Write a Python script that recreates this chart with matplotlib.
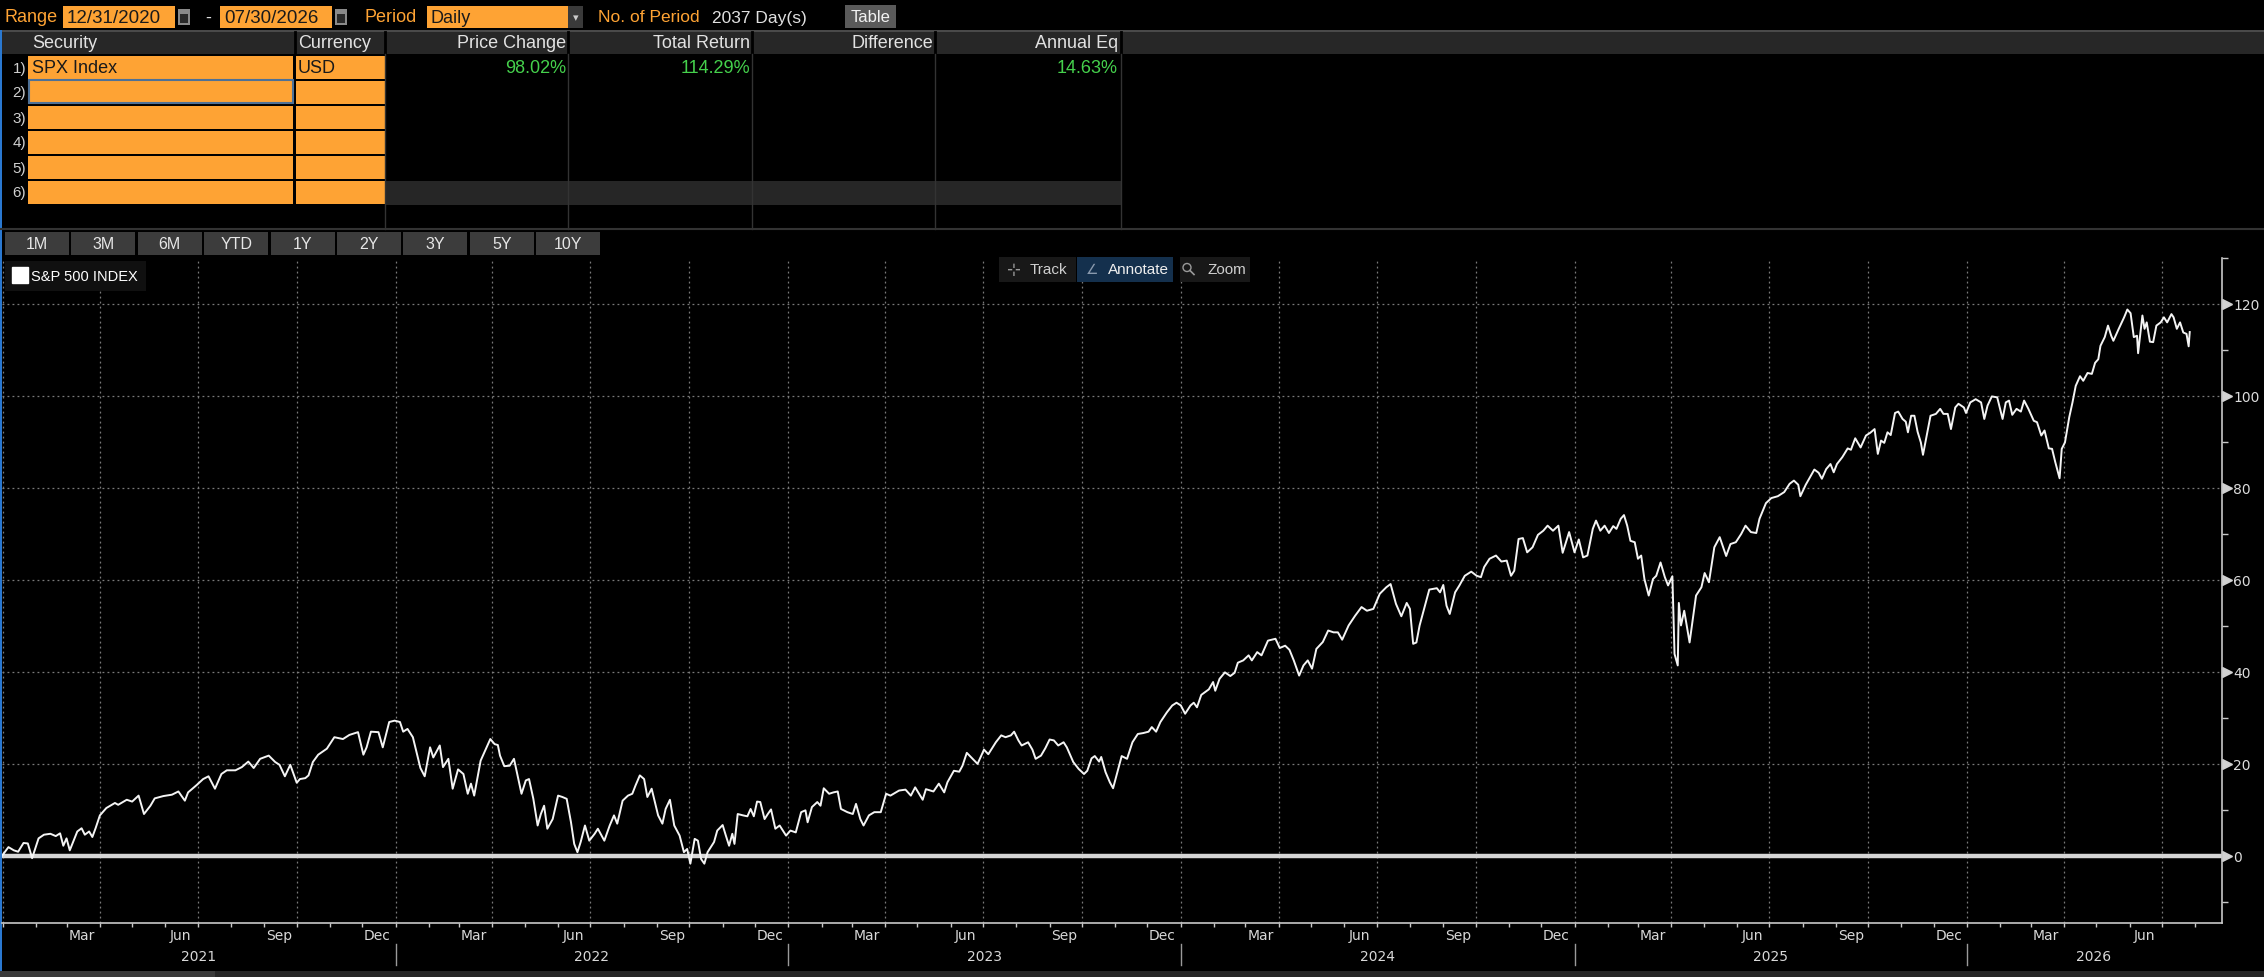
import numpy as np
import matplotlib
matplotlib.use('Agg')
import matplotlib.pyplot as plt
import matplotlib.dates as mdates
from matplotlib.patches import Rectangle, Circle
from matplotlib.lines import Line2D
from matplotlib.ticker import NullFormatter
from matplotlib import transforms

# ---- data (cumulative total return, %) ----
START = np.datetime64('2020-12-31')
AXIS_END = np.datetime64('2026-08-26')

days_2021 = [0, 6, 11, 15, 20, 24, 28, 34, 39, 45, 50, 54, 57, 60, 63, 70, 74, 77, 81, 84,
             87, 91, 97, 105, 108, 116, 121, 127, 132, 138, 142, 150, 158, 164, 170, 173, 181, 187, 192, 198,
             204, 209, 217, 223, 229, 234, 240, 248, 254, 258, 263, 268, 274, 277, 282, 285, 289, 294, 302, 309,
             317, 323, 331, 336, 339, 343, 350, 354, 360, 365]
ret_2021 = [0.0, 1.9, 1.2, 0.9, 2.8, 2.7, -0.5, 3.8, 4.6, 4.8, 4.3, 4.9, 2.2, 3.8, 1.2, 5.3, 6.0, 4.6, 5.3, 4.1,
            6.0, 8.8, 10.4, 11.5, 11.1, 12.2, 11.8, 13.1, 9.1, 10.9, 12.5, 13.0, 13.3, 14.0, 12.0, 13.8, 15.4, 16.7, 17.3, 14.6,
            17.8, 18.6, 18.6, 19.3, 20.5, 19.1, 21.1, 21.8, 20.4, 19.8, 17.3, 19.8, 15.9, 16.7, 16.9, 17.5, 20.4, 22.0, 23.3, 25.8,
            25.4, 26.3, 26.9, 22.0, 23.6, 27.0, 26.9, 23.6, 29.1, 29.4]

days_2022 = [370, 373, 377, 382, 389, 393, 398, 401, 407, 410, 415, 419, 424, 429, 433, 436, 439, 445, 454, 458,
             461, 463, 467, 472, 476, 480, 483, 487, 490, 494, 498, 501, 504, 507, 512, 517, 521, 525, 529, 532,
             535, 538, 542, 546, 551, 554, 560, 565, 569, 572, 577, 582, 586, 589, 593, 597, 600, 604, 610, 614,
             617, 621, 625, 630, 634, 637, 640, 644, 647, 650, 653, 656, 659, 662, 665, 670, 673, 676, 679, 681,
             684, 689, 693, 696, 699, 702, 705, 709, 712, 715, 719, 723, 729]
ret_2022 = [29.1, 27.0, 27.6, 25.8, 19.1, 17.3, 23.6, 21.4, 24.0, 19.3, 21.1, 14.6, 18.8, 17.8, 13.5, 15.7, 13.1, 20.7, 25.4, 24.3,
            24.1, 21.8, 19.5, 19.6, 21.1, 16.7, 13.5, 16.4, 16.7, 12.4, 6.6, 9.1, 10.9, 5.9, 8.0, 13.1, 12.8, 12.4, 7.3, 2.6,
            0.8, 3.0, 6.6, 3.3, 4.8, 5.9, 3.3, 6.6, 8.8, 7.0, 12.0, 13.1, 13.5, 15.3, 17.5, 16.7, 12.8, 14.6, 8.8, 7.0,
            10.2, 12.2, 6.6, 4.4, 0.8, 1.5, -1.7, 3.7, 3.3, -0.7, -1.7, 0.8, 1.9, 3.0, 5.5, 6.7, 4.4, 2.2, 4.8, 2.6,
            9.1, 8.8, 8.6, 10.2, 8.6, 11.8, 11.7, 8.0, 9.1, 10.1, 5.9, 6.6, 4.4]

days_2023 = [733, 738, 743, 747, 749, 753, 758, 761, 764, 769, 773, 777, 780, 786, 791, 794, 798, 801, 806, 811,
             817, 822, 826, 834, 840, 845, 849, 856, 859, 866, 871, 876, 879, 885, 890, 893, 897, 902, 907, 913,
             917, 924, 929, 933, 938, 941, 945, 948, 954, 958, 961, 966, 970, 974, 978, 982, 987, 990, 996, 1001,
             1006, 1009, 1013, 1016, 1020, 1022, 1026, 1030, 1033, 1037, 1041, 1046, 1051, 1056, 1061, 1066, 1069, 1073, 1077, 1083,
             1088, 1092]
ret_2023 = [5.5, 5.1, 9.5, 9.9, 7.3, 10.6, 11.7, 10.9, 14.7, 13.5, 13.8, 14.0, 10.2, 9.5, 9.1, 11.3, 8.0, 6.6, 8.8, 9.5,
            9.5, 13.5, 13.1, 14.2, 14.4, 13.1, 14.9, 12.2, 14.5, 14.0, 15.7, 13.8, 16.0, 18.5, 18.3, 19.6, 22.4, 21.2, 20.0, 23.1,
            22.1, 24.7, 26.2, 25.8, 26.2, 27.0, 25.1, 24.0, 24.7, 23.1, 21.1, 21.8, 23.4, 25.3, 25.1, 24.0, 24.7, 23.6, 20.4, 18.9,
            17.8, 18.5, 21.2, 21.7, 20.5, 21.5, 18.2, 16.0, 14.7, 18.2, 21.7, 21.1, 24.7, 26.5, 26.7, 27.0, 28.0, 27.0, 29.1, 31.2,
            32.7, 33.3]

days_2024 = [1096, 1100, 1105, 1108, 1111, 1115, 1122, 1126, 1128, 1132, 1137, 1142, 1146, 1149, 1154, 1159, 1162, 1167, 1171, 1177,
             1184, 1188, 1193, 1197, 1201, 1206, 1210, 1214, 1218, 1222, 1228, 1233, 1238, 1242, 1246, 1252, 1258, 1264, 1269, 1275,
             1281, 1287, 1291, 1296, 1301, 1306, 1309, 1312, 1315, 1318, 1323, 1327, 1334, 1337, 1340, 1343, 1346, 1351, 1355, 1360,
             1366, 1371, 1375, 1378, 1383, 1389, 1394, 1399, 1403, 1406, 1410, 1414, 1418, 1423, 1428, 1433, 1437, 1442, 1447, 1451,
             1457]
ret_2024 = [32.7, 30.9, 32.7, 33.3, 32.3, 35.0, 36.2, 37.8, 35.9, 38.5, 39.9, 39.1, 39.8, 42.0, 42.5, 43.6, 42.5, 44.3, 43.6, 46.8,
            47.2, 45.2, 45.7, 44.8, 42.5, 39.2, 41.4, 42.5, 40.7, 45.0, 46.5, 49.0, 48.6, 48.6, 47.0, 50.1, 52.2, 54.1, 53.3, 53.7,
            57.0, 58.4, 59.1, 54.8, 52.1, 55.0, 53.7, 46.1, 46.4, 50.1, 54.4, 57.9, 58.2, 57.3, 58.9, 54.4, 52.6, 57.3, 58.8, 60.9,
            61.8, 60.9, 60.6, 62.8, 64.6, 65.3, 64.0, 64.2, 60.9, 62.0, 68.9, 69.1, 66.0, 67.1, 69.8, 70.7, 71.8, 70.7, 71.8, 65.9,
            70.4]

days_2025 = [1462, 1466, 1470, 1474, 1479, 1482, 1486, 1490, 1494, 1498, 1501, 1505, 1508, 1511, 1514, 1518, 1521, 1524, 1527, 1531,
             1535, 1538, 1542, 1546, 1549, 1553, 1555, 1558, 1559, 1561, 1564, 1569, 1575, 1580, 1583, 1587, 1592, 1597, 1603, 1607,
             1612, 1617, 1621, 1626, 1631, 1634, 1640, 1645, 1651, 1657, 1662, 1666, 1670, 1672, 1677, 1685, 1689, 1692, 1696, 1700,
             1703, 1706, 1711, 1716, 1719, 1723, 1728, 1733, 1737, 1741, 1744, 1747, 1750, 1753, 1756, 1760, 1763, 1767, 1770, 1772,
             1775, 1778, 1781, 1784, 1786, 1790, 1793, 1798, 1802, 1805, 1809, 1812, 1816, 1819, 1824, 1826]
ret_2025 = [66.0, 68.8, 64.9, 65.3, 71.1, 72.9, 70.7, 71.8, 70.2, 71.7, 71.1, 73.3, 74.1, 71.8, 68.5, 68.2, 64.6, 65.3, 60.2, 56.6,
            60.2, 60.9, 63.8, 60.6, 58.8, 60.8, 43.9, 41.4, 55.0, 50.1, 53.3, 46.4, 56.6, 58.4, 61.5, 59.5, 67.1, 69.3, 65.2, 67.8,
            68.2, 70.0, 71.8, 70.4, 70.2, 73.3, 76.7, 77.8, 78.2, 79.1, 80.9, 81.6, 80.7, 78.2, 80.7, 84.0, 83.3, 82.0, 84.1, 85.2,
            83.4, 85.2, 86.7, 88.6, 88.3, 90.8, 88.8, 91.4, 92.0, 92.8, 87.4, 90.3, 89.8, 92.1, 91.5, 96.3, 96.6, 95.0, 94.4, 92.1,
            95.7, 95.7, 92.2, 89.9, 87.2, 92.1, 95.7, 96.1, 97.2, 96.1, 96.1, 92.8, 97.5, 98.3, 97.5, 96.3]

days_2026 = [1830, 1835, 1840, 1843, 1846, 1850, 1855, 1860, 1863, 1866, 1869, 1873, 1877, 1880, 1884, 1889, 1892, 1896, 1899, 1903,
             1906, 1909, 1913, 1915, 1918, 1922, 1925, 1928, 1932, 1935, 1939, 1943, 1946, 1949, 1951, 1955, 1958, 1961, 1963, 1968,
             1973, 1976, 1979, 1982, 1985, 1986, 1990, 1992, 1994, 1997, 2000, 2003, 2007, 2010, 2013, 2017, 2019, 2022, 2025, 2028,
             2031, 2033, 2034]
ret_2026 = [98.6, 99.3, 98.6, 95.0, 97.9, 99.9, 99.7, 95.0, 98.6, 99.0, 95.9, 97.2, 96.6, 99.0, 97.2, 94.6, 94.3, 91.4, 92.5, 88.6,
            88.5, 85.6, 82.1, 88.5, 89.9, 95.4, 98.6, 102.2, 104.3, 103.3, 105.0, 104.8, 107.2, 108.0, 110.9, 112.8, 115.3, 113.1, 112.0, 114.6,
            117.1, 118.8, 118.0, 112.8, 113.1, 109.3, 117.5, 114.6, 116.0, 111.8, 111.7, 115.3, 116.0, 117.1, 116.0, 117.8, 117.1, 114.6, 116.0, 113.8,
            113.5, 110.8, 113.9]

headers = ['Security', 'Currency', 'Price Change', 'Total Return', 'Difference', 'Annual Eq']
row_1 = ['SPX Index', 'USD', '98.02%', '114.29%', '', '14.63%']
buttons = ['1M', '3M', '6M', 'YTD', '1Y', '2Y', '3Y', '5Y', '10Y']
tools = ['Track', 'Annotate', 'Zoom']
y_major = [0, 20, 40, 60, 80, 100, 120]
month_names = {3: 'Mar', 6: 'Jun', 9: 'Sep', 12: 'Dec'}
series_name = 'S&P 500 INDEX'

days = np.array(days_2021 + days_2022 + days_2023 + days_2024 + days_2025 + days_2026)
ret = np.array(ret_2021 + ret_2022 + ret_2023 + ret_2024 + ret_2025 + ret_2026)
dates = START + days.astype('timedelta64[D]')

ORANGE = '#fea334'
GREEN = '#45d14c'
UI_FONT = 'Liberation Sans'
W, H = 2264, 978

fig = plt.figure(figsize=(W / 100, H / 100), dpi=100, facecolor='black')

# screen chrome, drawn in pixel coordinates
ui = fig.add_axes([0, 0, 1, 1], zorder=0)
ui.set_xlim(0, W)
ui.set_ylim(H, 0)
ui.axis('off')


def box(x0, y0, x1, y1, color, on=ui, **kw):
    on.add_patch(Rectangle((x0, y0), x1 - x0, y1 - y0, facecolor=color, edgecolor='none', **kw))


def label(x, y, s, color='#e2e2e2', size=13, on=ui, **kw):
    on.text(x, y, s, color=color, fontsize=size, family=UI_FONT, va='center', **kw)


# top bar
label(4, 18, 'Range', ORANGE)
for x0, txt in [(63, '12/31/2020'), (220, '07/30/2026')]:
    box(x0, 7, x0 + 112, 29, ORANGE)
    label(x0 + 4, 18.5, txt, '#1a1a1a', 13.5)
    box(x0 + 115, 10, x0 + 127, 26, '#8a8a8a')
    box(x0 + 117, 15, x0 + 125, 24, '#2a2a2a')
label(205, 18, '-', '#dddddd')
label(364, 18, 'Period', ORANGE)
box(427, 7, 568, 29, ORANGE)
box(568, 7, 583, 29, '#3a3a3a')
label(431, 18.5, 'Daily', '#1a1a1a')
ui.text(575.5, 18, '\u25be', color='#cccccc', fontsize=8, ha='center', va='center')
label(598, 18, 'No. of Period', ORANGE, 12.5)
label(712, 18, '2037 Day(s)', '#e0e0e0', 12.5)
box(845, 6, 896, 29, '#5a5a5a')
label(870.5, 18, 'Table', '#f2f2f2', 12, ha='center')

# table
box(0, 31, W, 33, '#4a4a4a')
box(0, 33, W, 55, '#272727')
col_left = [32, 298]
col_right = [566, 750, 933, 1118]
for x, h in zip(col_left, headers[:2]):
    label(x, 44, h)
for x, h in zip(col_right, headers[2:]):
    label(x, 44, h, ha='right')
for x in [294.5, 385, 568, 752, 935, 1121]:
    ui.plot([x, x], [33, 55], color='black', lw=2)
for x in [385, 568, 752, 935, 1121]:
    ui.plot([x, x], [55, 230], color='#333333', lw=1)
box(385, 182, 1121, 206, '#262626')
for i in range(6):
    top = 57 + 25 * i
    box(28, top, 293, top + 23, ORANGE)
    box(296, top, 385, top + 23, ORANGE)
    label(26, top + 11.5, f'{i + 1})', '#d0d0d0', 11, ha='right')
ui.add_patch(Rectangle((28.5, 81), 264, 23, facecolor='none', edgecolor='#4f7196', lw=1.5))
label(32, 68.5, row_1[0], '#1a1a1a')
label(298, 68.5, row_1[1], '#1a1a1a')
for x, v in zip(col_right, row_1[2:]):
    label(x, 68.5, v, GREEN, ha='right')
ui.plot([0, W], [230, 230], color='#333333', lw=1.5)

# period buttons
for i, b in enumerate(buttons):
    x0 = 4 + 66.4 * i
    box(x0 + 1, 233, x0 + 65, 256, '#3c3c3c')
    label(x0 + 33, 244.5, b, '#e6e6e6', 11.5, ha='center')

box(0, 31, 2, 972, '#2a78d0')
box(0, 972, W, 978, '#262626')
box(0, 972, 215, 978, '#3a3a3a')

# chart
ax = fig.add_axes([2 / W, 1 - 924 / H, 2220 / W, 665 / H], zorder=2)
ax.set_facecolor('none')
ax.axhline(0, color='#d6d6d6', lw=3.2, zorder=2)
ax.plot(dates, ret, color='#f4f4f4', lw=1.4, zorder=3)
ax.set_xlim(START, AXIS_END)
ax.set_ylim(-14.6, 130)

ax.xaxis.set_major_locator(mdates.MonthLocator(bymonth=[1, 4, 7, 10]))
ax.xaxis.set_minor_locator(mdates.MonthLocator())
ax.xaxis.set_major_formatter(NullFormatter())
ax.tick_params(axis='x', which='both', direction='out', length=3, width=1, color='#c8c8c8', labelbottom=False)

ax.yaxis.tick_right()
ax.set_yticks(y_major)
ax.set_yticks(np.arange(-10, 131, 20), minor=True)
ax.tick_params(axis='y', which='major', length=0, pad=8, labelsize=10, labelcolor='#dcdcdc')
ax.tick_params(axis='y', which='minor', length=4, width=1, direction='out', color='#c8c8c8')
arrow_tr = transforms.offset_copy(transforms.blended_transform_factory(ax.transAxes, ax.transData),
                                  fig=fig, x=4.5, y=0, units='dots')
ax.plot([1.0] * len(y_major), y_major, transform=arrow_tr, ls='none', marker='>', ms=6.5,
        color='#d0d0d0', clip_on=False)

ax.grid(True, which='major', color='#7a7a7a', lw=0.9, ls=(0, (1.5, 2.5)))
for side in ['left', 'top']:
    ax.spines[side].set_visible(False)
for side in ['right', 'bottom']:
    ax.spines[side].set_color('#c8c8c8')
    ax.spines[side].set_linewidth(1.2)

xt = ax.get_xaxis_transform()
for yr in range(2021, 2027):
    for m, name in month_names.items():
        d = np.datetime64(f'{yr}-{m:02d}-15')
        if START <= d <= AXIS_END:
            ax.text(d, -0.018, name, transform=xt, ha='center', va='center', fontsize=10, color='#d8d8d8')
    lo = max(START, np.datetime64(f'{yr}-01-01'))
    hi = min(AXIS_END, np.datetime64(f'{yr + 1}-01-01'))
    ax.text(lo + (hi - lo) // 2, -0.049, str(yr), transform=xt, ha='center', va='center',
            fontsize=10, color='#d8d8d8')
    if yr > 2021:
        jan = np.datetime64(f'{yr}-01-01')
        ax.plot([jan, jan], [-0.032, -0.063], transform=xt, color='#9a9a9a', lw=1, clip_on=False)

handle = Line2D([], [], marker='s', ls='none', color='white', markersize=11)
ax.legend([handle], [series_name], loc='upper left', bbox_to_anchor=(5 / W, 1 - 262 / H),
          bbox_transform=fig.transFigure, borderaxespad=0, fancybox=False, facecolor='#101010',
          edgecolor='none', framealpha=1, labelcolor='white', handlelength=0.9, handletextpad=0.35,
          borderpad=0.55, prop={'family': UI_FONT, 'size': 10.5})

# chart toolbar
over = fig.add_axes([0, 0, 1, 1], zorder=3)
over.set_xlim(0, W)
over.set_ylim(H, 0)
over.axis('off')
box(999, 258, 1076, 283, '#181818', on=over)
box(1077, 258, 1173, 283, '#14304d', on=over)
box(1180, 258, 1250, 283, '#181818', on=over)
over.text(1013, 270.5, '\u22b9', color='#9a9a9a', fontsize=12, ha='center', va='center')
over.text(1092, 270.5, '\u2220', color='#8a9aae', fontsize=10, ha='center', va='center')
over.add_patch(Circle((1187, 268.5), 4, facecolor='none', edgecolor='#9a9a9a', lw=1))
over.plot([1190, 1194], [271.5, 275.5], color='#9a9a9a', lw=1.2)
for x, t, c in zip([1030, 1108, 1207], tools, ['#cfcfcf', '#eeeeee', '#cfcfcf']):
    label(x, 270.5, t, c, 11, on=over)

fig.savefig('out.png', dpi=100, facecolor='black')
